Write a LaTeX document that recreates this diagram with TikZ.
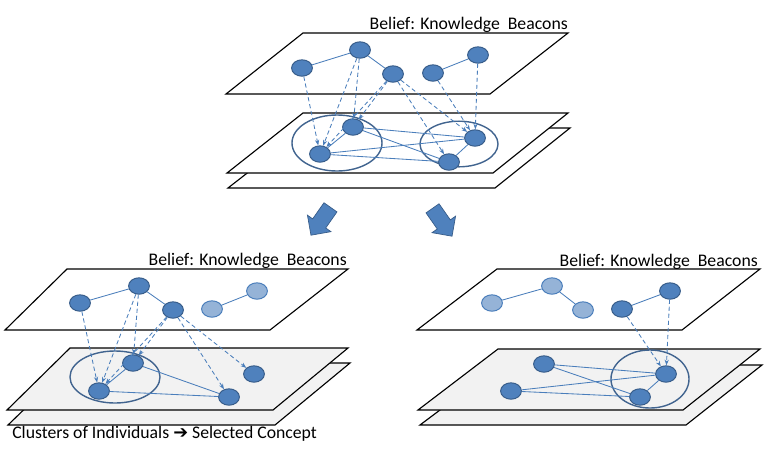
\documentclass[tikz,border=0pt]{standalone}
\usepackage{fontspec}
\setmainfont{Carlito}
\newfontfamily\arrowfont{DejaVu Sans}
\usetikzlibrary{shapes.geometric,shapes.arrows,arrows.meta}
\definecolor{beacon}{HTML}{4F81BD}
\definecolor{beaconline}{HTML}{385D8A}
\definecolor{faded}{HTML}{95B3D7}
\definecolor{link}{HTML}{4A7EBB}
\definecolor{cluster}{HTML}{41648F}
\definecolor{sheet}{HTML}{F2F2F2}

\begin{document}
\begin{tikzpicture}
[x=0.025cm,y=-0.025cm,
 dot/.style={ellipse,draw=beaconline,fill=beacon,line width=0.7pt,inner sep=0pt,minimum width=5.2mm,minimum height=4.1mm},
 faint/.style={dot,fill=faded,draw=link},
 plane/.style={draw=black,line width=0.8pt,fill=white},
 grey plane/.style={plane,fill=sheet},
 group/.style={draw=cluster,line width=1pt},
 tie/.style={draw=link,line width=0.6pt},
 hint/.style={draw=link,line width=0.6pt,dash pattern=on 3pt off 2pt,-{Stealth[length=4pt,width=3pt]}},
 title/.style={anchor=base east,inner sep=0pt,font=\fontsize{12.6}{14}\selectfont},
 turn/.style={single arrow,draw=beaconline,fill=beacon,line width=0.5pt,inner xsep=0pt,inner ysep=1.9mm,minimum height=8.5mm,single arrow head extend=1.6mm}]
\useasboundingbox (0,0) rectangle (771,456);
% top: all beacons
\draw[plane] (305,128) -- (570,128) -- (495,188) -- (228,188) -- cycle;
\draw[plane] (303,113) -- (568,113) -- (493,173) -- (227,173) -- cycle;
\draw[plane] (303,33) -- (568,33) -- (490,94) -- (226,94) -- cycle;
\node[title] (head-a) at (568,29) {Belief: Knowledge\ \ Beacons};
\draw[group] (337,143) ellipse [x radius=1.125cm, y radius=0.7cm];
\draw[group] (459,144) ellipse [x radius=0.975cm, y radius=0.57cm];
\node[dot] (K1-a) at (302,68)  {};
\node[dot] (K2-a) at (360,50)  {};
\node[dot] (K3-a) at (393,74)  {};
\node[dot] (K4-a) at (433,73)  {};
\node[dot] (K5-a) at (478,55)  {};
\node[dot] (I1-a) at (353,127) {};
\node[dot] (I2-a) at (320,154) {};
\node[dot] (I3-a) at (475,138) {};
\node[dot] (I4-a) at (449,162) {};
\path (K1-a) edge[tie] (K2-a)
      (K2-a) edge[tie] (K3-a)
      (K4-a) edge[tie] (K5-a)
      (I1-a) edge[tie] (I2-a)
             edge[tie] (I3-a)
             edge[tie] (I4-a)
      (I2-a) edge[tie] (I3-a)
             edge[tie] (I4-a)
      (I3-a) edge[tie] (I4-a);
\path (K1-a) edge[hint] (I2-a)
      (K2-a) edge[hint] (I2-a)
             edge[hint] (I1-a)
      (K3-a) edge[hint] (I2-a)
             edge[hint] (I1-a)
             edge[hint] (I3-a)
             edge[hint] (I4-a)
      (K4-a) edge[hint] (I3-a)
      (K5-a) edge[hint] (I3-a);
% split
\node[turn,rotate=235] (go-b) at (323,218) {};
\node[turn,rotate=305] (go-c) at (440,219) {};
% bottom left: selected concept
\draw[grey plane] (72,363) -- (350,363) -- (275,425) -- (8,425) -- cycle;
\draw[grey plane] (70,348) -- (348,348) -- (273,410) -- (7,410) -- cycle;
\draw[plane] (67,269) -- (348,269) -- (270,330) -- (5,330) -- cycle;
\node[title] (head-b) at (347,265) {Belief: Knowledge\ \ Beacons};
\node[title,anchor=base west] (note-b) at (12,438)
  {Clusters of Individuals {\arrowfont\fontsize{12.6}{14}\selectfont ➔} Selected Concept};
\draw[group] (115,377) ellipse [x radius=1.125cm, y radius=0.65cm];
\node[dot]   (K1-b) at (80,303)  {};
\node[dot]   (K2-b) at (139,286) {};
\node[dot]   (K3-b) at (173,310) {};
\node[faint] (K4-b) at (212,309) {};
\node[faint] (K5-b) at (257,291) {};
\node[dot]   (I1-b) at (133,363) {};
\node[dot]   (I2-b) at (99,391)  {};
\node[dot]   (I3-b) at (254,374) {};
\node[dot]   (I4-b) at (229,397) {};
\path (K1-b) edge[tie] (K2-b)
      (K2-b) edge[tie] (K3-b)
      (K4-b) edge[tie] (K5-b)
      (I1-b) edge[tie] (I2-b)
             edge[tie] (I4-b)
      (I2-b) edge[tie] (I4-b);
\path (K1-b) edge[hint] (I2-b)
      (K2-b) edge[hint] (I2-b)
             edge[hint] (I1-b)
      (K3-b) edge[hint] (I2-b)
             edge[hint] (I1-b)
             edge[hint] (I3-b)
             edge[hint] (I4-b);
% bottom right: other concept
\draw[grey plane] (500,365) -- (762,365) -- (686,425) -- (420,425) -- cycle;
\draw[grey plane] (498,349) -- (760,349) -- (683,410) -- (418,410) -- cycle;
\draw[plane] (497,269) -- (760,269) -- (682,330) -- (417,330) -- cycle;
\node[title] (head-c) at (758,266) {Belief: Knowledge\ \ Beacons};
\draw[group] (650,379) ellipse [x radius=0.975cm, y radius=0.725cm];
\node[faint] (K1-c) at (492,303) {};
\node[faint] (K2-c) at (552,286) {};
\node[faint] (K3-c) at (583,310) {};
\node[dot]   (K4-c) at (622,309) {};
\node[dot]   (K5-c) at (670,291) {};
\node[dot]   (I1-c) at (544,364) {};
\node[dot]   (I2-c) at (511,391) {};
\node[dot]   (I3-c) at (666,374) {};
\node[dot]   (I4-c) at (640,397) {};
\path (K1-c) edge[tie] (K2-c)
      (K2-c) edge[tie] (K3-c)
      (K4-c) edge[tie] (K5-c)
      (I1-c) edge[tie] (I3-c)
             edge[tie] (I4-c)
      (I2-c) edge[tie] (I3-c)
             edge[tie] (I4-c)
      (I3-c) edge[tie] (I4-c);
\path (K4-c) edge[hint] (I3-c)
      (K5-c) edge[hint] (I3-c);
\end{tikzpicture}
\end{document}
